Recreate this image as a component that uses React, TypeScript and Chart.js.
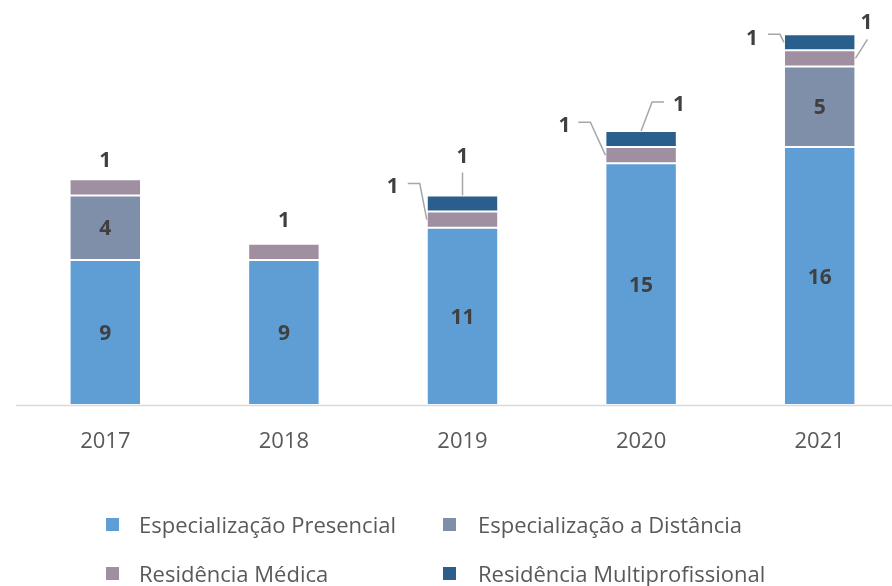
import React, { useEffect, useRef } from "react";
import { Chart, registerables } from "chart.js";

Chart.register(...registerables);

// ---- data ----
const years = ["2017", "2018", "2019", "2020", "2021"];
const presencial = [9, 9, 11, 15, 16];
const distancia = [4, null, null, null, 5];
const medica = [1, 1, 1, 1, 1];
const multiprofissional = [null, null, 1, 1, 1];
const seriesNames = [
  "Especialização Presencial",
  "Especialização a Distância",
  "Residência Médica",
  "Residência Multiprofissional",
];

// ---- styles ----
const seriesColors = ["#5F9ED4", "#7F8FA9", "#9F8FA0", "#2A5F8D"];
const FONT = "'Open Sans', 'Noto Sans', sans-serif";
const LABEL_COLOR = "#404040";
const TEXT_COLOR = "#595959";
const LEADER_COLOR = "#A6A6A6";

// callouts for small segments: anchor on bar, leader polyline & label offsets (px)
type Callout = {
  ds: number;
  i: number;
  anchor: "top" | "left" | "right";
  line: [number, number][];
  label: [number, number];
};
const callouts: Callout[] = [
  { ds: 2, i: 0, anchor: "top", line: [], label: [0, -20] },
  { ds: 2, i: 1, anchor: "top", line: [], label: [0, -24] },
  { ds: 2, i: 2, anchor: "left", line: [[0, 0], [-7, -36], [-19, -36]], label: [-34, -34] },
  { ds: 3, i: 2, anchor: "top", line: [[0, 0], [0, -23]], label: [0, -40] },
  { ds: 2, i: 3, anchor: "left", line: [[0, 0], [-15, -33], [-27, -33]], label: [-41, -31] },
  { ds: 3, i: 3, anchor: "top", line: [[0, 0], [11, -29], [23, -29]], label: [38, -27] },
  { ds: 3, i: 4, anchor: "left", line: [[0, 0], [-4, -8], [-16, -8]], label: [-32, -5] },
  { ds: 2, i: 4, anchor: "right", line: [[0, 0], [12, -19]], label: [11, -37] },
];

const LABEL_SIZE = 21;
const YEAR_SIZE = 22;
const LEGEND_SIZE = 22;

function drawCenteredText(ctx: CanvasRenderingContext2D, text: string, x: number, cy: number, size: number) {
  ctx.textBaseline = "alphabetic";
  ctx.fillText(text, x, cy + 0.357 * size);
}

const overlayPlugin = {
  id: "overlay",
  afterDatasetsDraw(chart: any) {
    const ctx: CanvasRenderingContext2D = chart.ctx;
    const area = chart.chartArea;
    ctx.save();

    // axis line
    ctx.strokeStyle = "#D9D9D9";
    ctx.lineWidth = 1.5;
    ctx.beginPath();
    ctx.moveTo(area.left, area.bottom + 0.5);
    ctx.lineTo(chart.width, area.bottom + 0.5);
    ctx.stroke();

    // year labels
    const xScale = chart.scales.x;
    ctx.fillStyle = TEXT_COLOR;
    ctx.font = `${YEAR_SIZE}px ${FONT}`;
    ctx.textAlign = "center";
    years.forEach((y, i) => {
      drawCenteredText(ctx, y, xScale.getPixelForValue(i), 440, YEAR_SIZE);
    });

    // inner labels (big segments)
    ctx.fillStyle = LABEL_COLOR;
    ctx.font = `bold ${LABEL_SIZE}px ${FONT}`;
    [0, 1].forEach((ds) => {
      const meta = chart.getDatasetMeta(ds);
      const data = chart.data.datasets[ds].data;
      meta.data.forEach((el: any, i: number) => {
        const v = data[i];
        if (v == null) return;
        drawCenteredText(ctx, String(v), el.x, (el.y + el.base) / 2, LABEL_SIZE);
      });
    });

    // callouts
    callouts.forEach((c) => {
      const el: any = chart.getDatasetMeta(c.ds).data[c.i];
      const v = chart.data.datasets[c.ds].data[c.i];
      if (!el || v == null) return;
      let ax = el.x;
      let ay = el.y;
      const mid = (el.y + el.base) / 2;
      if (c.anchor === "left") {
        ax = el.x - el.width / 2;
        ay = mid;
      } else if (c.anchor === "right") {
        ax = el.x + el.width / 2;
        ay = mid;
      }
      if (c.line.length > 1) {
        ctx.strokeStyle = LEADER_COLOR;
        ctx.lineWidth = 1.5;
        ctx.beginPath();
        c.line.forEach(([dx, dy], k) => {
          if (k === 0) ctx.moveTo(ax + dx, ay + dy);
          else ctx.lineTo(ax + dx, ay + dy);
        });
        ctx.stroke();
      }
      ctx.fillStyle = LABEL_COLOR;
      ctx.font = `bold ${LABEL_SIZE}px ${FONT}`;
      ctx.textAlign = "center";
      drawCenteredText(ctx, String(v), ax + c.label[0], ay + c.label[1], LABEL_SIZE);
    });

    // legend
    const legendPos = [
      { sx: 106, tx: 139, cy: 525 },
      { sx: 443, tx: 478, cy: 525 },
      { sx: 106, tx: 139, cy: 574 },
      { sx: 443, tx: 478, cy: 574 },
    ];
    ctx.font = `${LEGEND_SIZE}px ${FONT}`;
    ctx.textAlign = "left";
    seriesNames.forEach((name, k) => {
      const p = legendPos[k];
      ctx.fillStyle = seriesColors[k];
      ctx.fillRect(p.sx, p.cy - 7, 13, 13);
      ctx.fillStyle = TEXT_COLOR;
      drawCenteredText(ctx, name, p.tx, p.cy, LEGEND_SIZE);
    });

    ctx.restore();
  },
};

export default function App() {
  const ref = useRef<HTMLCanvasElement | null>(null);

  useEffect(() => {
    if (!ref.current) return;
    const seriesData = [presencial, distancia, medica, multiprofissional];
    const chart = new Chart(ref.current, {
      type: "bar",
      data: {
        labels: years,
        datasets: seriesNames.map((name, k) => ({
          label: name,
          data: seriesData[k] as any,
          backgroundColor: seriesColors[k],
          borderColor: "rgba(255,255,255,0.3)",
          borderWidth: 1,
          borderSkipped: false,
          barPercentage: 0.4,
          categoryPercentage: 1,
        })),
      },
      options: {
        responsive: false,
        animation: false,
        layout: { padding: { left: 16, right: 16, top: 2, bottom: 181 } },
        plugins: {
          legend: { display: false },
          tooltip: { enabled: false },
        },
        scales: {
          x: { stacked: true, display: false },
          y: { stacked: true, display: false, min: 0, max: 25 },
        },
      },
      plugins: [overlayPlugin],
    });
    return () => chart.destroy();
  }, []);

  return (
    <div
      style={{
        position: "fixed",
        left: 0,
        top: 0,
        width: 892,
        height: 586,
        overflow: "hidden",
        background: "#ffffff",
      }}
    >
      <canvas ref={ref} width={925} height={586} style={{ display: "block" }} />
    </div>
  );
}
